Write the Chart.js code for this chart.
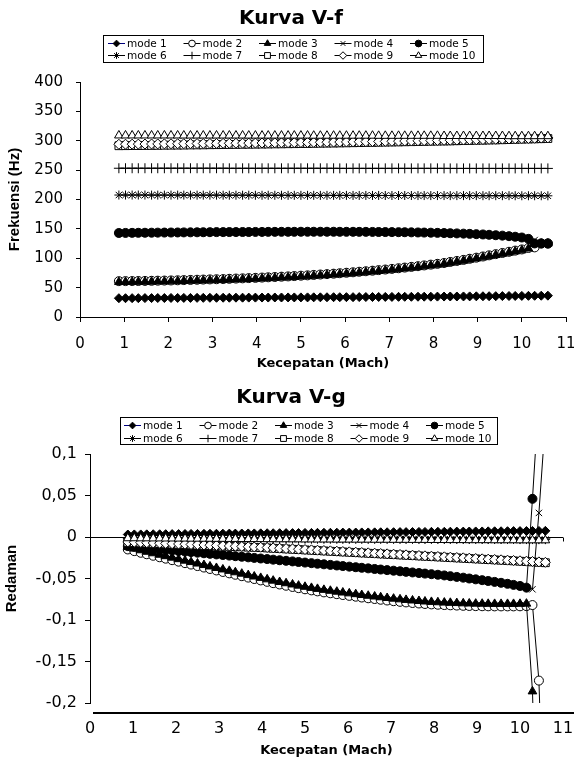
<!DOCTYPE html>
<html>
<head>
<meta charset="utf-8">
<script src="https://cdn.jsdelivr.net/npm/chart.js@4.4.1/dist/chart.umd.min.js"></script>
<style>
  html, body { margin: 0; padding: 0; background: #fff; }
  #wrap { position: relative; width: 574px; height: 762px; overflow: hidden; }
  #wrap canvas { position: absolute; left: 0; }
  #vf { top: 0; }
  #vg { top: 372px; }
</style>
</head>
<body>
<div id="wrap">
  <canvas id="vf" width="574" height="372"></canvas>
  <canvas id="vg" width="574" height="390"></canvas>
</div>
<script>
/* ── Data: speed in Mach (shared by both charts) ── */
var mach = [0.88, 1.03, 1.18, 1.32, 1.47, 1.62, 1.76, 1.91, 2.06, 2.21,
  2.35, 2.50, 2.65, 2.79, 2.94, 3.09, 3.24, 3.38, 3.53, 3.68,
  3.82, 3.97, 4.12, 4.26, 4.41, 4.56, 4.71, 4.85, 5.00, 5.15,
  5.29, 5.44, 5.59, 5.74, 5.88, 6.03, 6.18, 6.32, 6.47, 6.62,
  6.76, 6.91, 7.06, 7.21, 7.35, 7.50, 7.65, 7.79, 7.94, 8.09,
  8.24, 8.38, 8.53, 8.68, 8.82, 8.97, 9.12, 9.26, 9.41, 9.56,
  9.71, 9.85, 10.00, 10.15, 10.29, 10.44, 10.59];

var modeLabels = ['mode 1', 'mode 2', 'mode 3', 'mode 4', 'mode 5',
  'mode 6', 'mode 7', 'mode 8', 'mode 9', 'mode 10'];

/* ── Frekuensi (Hz) per mode ── */
var freq1 = [32.0, 32.0, 32.1, 32.1, 32.2, 32.2, 32.3, 32.3, 32.4, 32.4,
  32.5, 32.5, 32.6, 32.6, 32.7, 32.7, 32.8, 32.8, 32.9, 32.9,
  33.0, 33.0, 33.1, 33.1, 33.2, 33.2, 33.3, 33.3, 33.4, 33.4,
  33.5, 33.5, 33.6, 33.7, 33.7, 33.8, 33.8, 33.9, 34.0, 34.0,
  34.1, 34.2, 34.2, 34.3, 34.4, 34.4, 34.5, 34.6, 34.6, 34.7,
  34.8, 34.9, 34.9, 35.0, 35.1, 35.2, 35.3, 35.4, 35.5, 35.6,
  35.7, 35.8, 35.9, 36.0, 36.1, 36.2, 36.3];
var freq2 = [61.0, 61.1, 61.2, 61.3, 61.4, 61.6, 61.8, 62.0, 62.2, 62.5,
  62.8, 63.1, 63.4, 63.7, 64.0, 64.3, 64.6, 65.0, 65.4, 65.8,
  66.2, 66.6, 67.1, 67.6, 68.1, 68.6, 69.1, 69.7, 70.3, 70.9,
  71.6, 72.3, 73.0, 73.7, 74.5, 75.3, 76.1, 77.0, 77.9, 78.8,
  79.8, 80.8, 81.9, 83.0, 84.1, 85.3, 86.5, 87.8, 89.1, 90.5,
  91.9, 93.7, 95.4, 97.2, 99.1, 101.0, 103.0, 105.0, 107.0, 109.0,
  111.0, 113.0, 115.0, 117.5, 118.5, 125.3, 125.4];
var freq3 = [59.5, 59.6, 59.7, 59.8, 59.9, 60.1, 60.3, 60.5, 60.7, 61.0,
  61.3, 61.6, 61.9, 62.2, 62.5, 62.8, 63.1, 63.5, 63.9, 64.3,
  64.7, 65.1, 65.6, 66.1, 66.6, 67.1, 67.6, 68.2, 68.8, 69.4,
  70.1, 70.8, 71.5, 72.2, 73.0, 73.8, 74.6, 75.5, 76.4, 77.3,
  78.3, 79.3, 80.4, 81.5, 82.6, 83.8, 85.0, 86.3, 87.6, 89.0,
  90.4, 92.2, 93.9, 95.7, 97.6, 99.5, 101.5, 103.5, 105.5, 107.5,
  109.5, 111.5, 113.5, 116.5, 124.5, 124.8, 125.0];
var freq4 = [143.0, 143.1, 143.2, 143.3, 143.4, 143.5, 143.6, 143.7, 143.8, 143.9,
  144.0, 144.1, 144.2, 144.3, 144.4, 144.5, 144.5, 144.6, 144.6, 144.7,
  144.7, 144.8, 144.8, 144.9, 144.9, 145.0, 145.0, 145.0, 145.1, 145.1,
  145.1, 145.1, 145.1, 145.1, 145.0, 145.0, 145.0, 144.9, 144.9, 144.8,
  144.7, 144.6, 144.5, 144.4, 144.3, 144.1, 143.9, 143.7, 143.5, 143.2,
  142.9, 142.6, 142.3, 141.9, 141.5, 141.0, 140.5, 139.9, 139.2, 138.5,
  137.6, 136.6, 135.3, 133.0, 131.0, 125.3, 125.1];
var freq5 = [143.0, 143.1, 143.2, 143.3, 143.4, 143.5, 143.6, 143.7, 143.8, 143.9,
  144.0, 144.1, 144.2, 144.3, 144.4, 144.5, 144.5, 144.6, 144.6, 144.7,
  144.7, 144.8, 144.8, 144.9, 144.9, 145.0, 145.0, 145.0, 145.1, 145.1,
  145.1, 145.1, 145.1, 145.1, 145.0, 145.0, 145.0, 144.9, 144.9, 144.8,
  144.7, 144.6, 144.5, 144.4, 144.3, 144.1, 143.9, 143.7, 143.5, 143.2,
  142.9, 142.6, 142.3, 141.9, 141.5, 141.0, 140.5, 139.9, 139.2, 138.5,
  137.6, 136.6, 135.3, 133.0, 125.2, 125.0, 124.8];
var freq6 = [207.6, 207.6, 207.6, 207.6, 207.6, 207.5, 207.5, 207.5, 207.5, 207.5,
  207.5, 207.4, 207.4, 207.4, 207.4, 207.4, 207.3, 207.3, 207.3, 207.3,
  207.3, 207.2, 207.2, 207.2, 207.2, 207.2, 207.1, 207.1, 207.1, 207.1,
  207.1, 207.0, 207.0, 207.0, 207.0, 207.0, 206.9, 206.9, 206.9, 206.9,
  206.9, 206.8, 206.8, 206.8, 206.8, 206.8, 206.7, 206.7, 206.7, 206.7,
  206.7, 206.6, 206.6, 206.6, 206.6, 206.6, 206.5, 206.5, 206.5, 206.5,
  206.5, 206.4, 206.4, 206.4, 206.4, 206.4, 206.3];
var freq7 = [253.2, 253.2, 253.2, 253.2, 253.2, 253.2, 253.2, 253.2, 253.2, 253.2,
  253.2, 253.2, 253.2, 253.2, 253.2, 253.2, 253.2, 253.1, 253.1, 253.1,
  253.1, 253.1, 253.1, 253.1, 253.1, 253.1, 253.1, 253.1, 253.1, 253.1,
  253.1, 253.1, 253.1, 253.1, 253.0, 253.0, 253.0, 253.0, 253.0, 253.0,
  253.0, 253.0, 253.0, 253.0, 253.0, 253.0, 253.0, 253.0, 253.0, 253.0,
  253.0, 252.9, 252.9, 252.9, 252.9, 252.9, 252.9, 252.9, 252.9, 252.9,
  252.9, 252.9, 252.9, 252.9, 252.9, 252.9, 252.9];
var freq8 = [291.5, 291.6, 291.7, 291.8, 291.9, 292.0, 292.1, 292.3, 292.4, 292.5,
  292.6, 292.8, 292.9, 293.0, 293.2, 293.3, 293.5, 293.6, 293.7, 293.9,
  294.0, 294.1, 294.3, 294.4, 294.6, 294.7, 294.9, 295.0, 295.2, 295.3,
  295.5, 295.7, 295.9, 296.0, 296.2, 296.4, 296.6, 296.8, 297.0, 297.2,
  297.4, 297.6, 297.8, 298.0, 298.2, 298.4, 298.6, 298.8, 299.1, 299.3,
  299.5, 299.7, 300.0, 300.2, 300.4, 300.7, 300.9, 301.2, 301.4, 301.7,
  302.0, 302.3, 302.6, 302.9, 303.2, 303.5, 303.8];
var freq9 = [294.0, 294.1, 294.2, 294.3, 294.4, 294.5, 294.6, 294.7, 294.8, 294.9,
  295.0, 295.1, 295.2, 295.3, 295.4, 295.5, 295.6, 295.7, 295.8, 295.9,
  296.0, 296.1, 296.2, 296.3, 296.5, 296.6, 296.7, 296.8, 297.0, 297.1,
  297.2, 297.4, 297.5, 297.7, 297.8, 298.0, 298.1, 298.3, 298.4, 298.6,
  298.8, 298.9, 299.1, 299.3, 299.5, 299.7, 299.9, 300.1, 300.3, 300.5,
  300.7, 300.9, 301.1, 301.3, 301.6, 301.8, 302.0, 302.3, 302.5, 302.8,
  303.0, 303.3, 303.6, 303.9, 304.2, 304.5, 304.8];
var freq10 = [309.0, 309.0, 309.0, 309.0, 309.0, 309.0, 309.0, 309.0, 309.0, 309.0,
  308.9, 308.9, 308.9, 308.9, 308.9, 308.9, 308.9, 308.9, 308.9, 308.9,
  308.8, 308.8, 308.8, 308.8, 308.8, 308.8, 308.8, 308.8, 308.8, 308.8,
  308.6, 308.6, 308.6, 308.6, 308.6, 308.6, 308.6, 308.6, 308.6, 308.6,
  308.4, 308.4, 308.4, 308.4, 308.4, 308.4, 308.4, 308.4, 308.4, 308.4,
  308.1, 308.1, 308.1, 308.1, 308.1, 308.1, 308.1, 308.1, 308.1, 308.1,
  307.8, 307.8, 307.8, 307.8, 307.8, 307.8, 307.8];

/* ── Redaman per mode ── */
var damp1 = [0.0030, 0.0031, 0.0031, 0.0032, 0.0033, 0.0033, 0.0034, 0.0035, 0.0035, 0.0036,
  0.0037, 0.0037, 0.0038, 0.0039, 0.0039, 0.0040, 0.0041, 0.0041, 0.0042, 0.0043,
  0.0043, 0.0044, 0.0045, 0.0045, 0.0046, 0.0047, 0.0047, 0.0048, 0.0049, 0.0049,
  0.0050, 0.0051, 0.0051, 0.0052, 0.0053, 0.0053, 0.0054, 0.0055, 0.0055, 0.0056,
  0.0057, 0.0057, 0.0058, 0.0059, 0.0059, 0.0060, 0.0061, 0.0061, 0.0062, 0.0063,
  0.0063, 0.0064, 0.0065, 0.0065, 0.0066, 0.0067, 0.0067, 0.0068, 0.0069, 0.0069,
  0.0070, 0.0071, 0.0071, 0.0072, 0.0073, 0.0073, 0.0074];
var damp2 = [-0.0150, -0.0170, -0.0190, -0.0208, -0.0226, -0.0244, -0.0261, -0.0279, -0.0297, -0.0315,
  -0.0332, -0.0350, -0.0368, -0.0385, -0.0403, -0.0421, -0.0438, -0.0455, -0.0472, -0.0489,
  -0.0506, -0.0523, -0.0540, -0.0556, -0.0572, -0.0587, -0.0602, -0.0616, -0.0630, -0.0643,
  -0.0655, -0.0667, -0.0678, -0.0689, -0.0699, -0.0709, -0.0719, -0.0729, -0.0738, -0.0747,
  -0.0756, -0.0765, -0.0773, -0.0781, -0.0788, -0.0795, -0.0801, -0.0807, -0.0812, -0.0816,
  -0.0820, -0.0823, -0.0826, -0.0829, -0.0831, -0.0833, -0.0834, -0.0835, -0.0836, -0.0836,
  -0.0836, -0.0836, -0.0835, -0.0833, -0.0820, -0.173, -0.42];
var damp3 = [-0.0120, -0.0140, -0.0160, -0.0178, -0.0196, -0.0214, -0.0231, -0.0249, -0.0267, -0.0285,
  -0.0302, -0.0320, -0.0338, -0.0355, -0.0373, -0.0391, -0.0408, -0.0425, -0.0442, -0.0459,
  -0.0476, -0.0493, -0.0510, -0.0526, -0.0542, -0.0557, -0.0572, -0.0586, -0.0600, -0.0613,
  -0.0625, -0.0637, -0.0648, -0.0659, -0.0669, -0.0679, -0.0689, -0.0699, -0.0708, -0.0717,
  -0.0726, -0.0735, -0.0743, -0.0751, -0.0758, -0.0765, -0.0771, -0.0777, -0.0782, -0.0786,
  -0.0790, -0.0793, -0.0796, -0.0799, -0.0801, -0.0803, -0.0804, -0.0805, -0.0806, -0.0806,
  -0.0806, -0.0806, -0.0805, -0.0803, -0.186, -0.45, -0.80];
var damp4 = [-0.0110, -0.0118, -0.0126, -0.0133, -0.0140, -0.0147, -0.0154, -0.0161, -0.0168, -0.0175,
  -0.0182, -0.0189, -0.0196, -0.0203, -0.0210, -0.0217, -0.0224, -0.0231, -0.0238, -0.0245,
  -0.0252, -0.0259, -0.0266, -0.0273, -0.0280, -0.0287, -0.0294, -0.0301, -0.0308, -0.0315,
  -0.0322, -0.0329, -0.0336, -0.0343, -0.0350, -0.0357, -0.0364, -0.0371, -0.0378, -0.0385,
  -0.0392, -0.0399, -0.0406, -0.0413, -0.0420, -0.0427, -0.0434, -0.0441, -0.0448, -0.0455,
  -0.0463, -0.0472, -0.0481, -0.0490, -0.0500, -0.0510, -0.0520, -0.0530, -0.0541, -0.0552,
  -0.0564, -0.0577, -0.0590, -0.0610, -0.0630, 0.029, 0.140];
var damp5 = [-0.0110, -0.0118, -0.0126, -0.0133, -0.0140, -0.0147, -0.0154, -0.0161, -0.0168, -0.0175,
  -0.0182, -0.0189, -0.0196, -0.0203, -0.0210, -0.0217, -0.0224, -0.0231, -0.0238, -0.0245,
  -0.0252, -0.0259, -0.0266, -0.0273, -0.0280, -0.0287, -0.0294, -0.0301, -0.0308, -0.0315,
  -0.0322, -0.0329, -0.0336, -0.0343, -0.0350, -0.0357, -0.0364, -0.0371, -0.0378, -0.0385,
  -0.0392, -0.0399, -0.0406, -0.0413, -0.0420, -0.0427, -0.0434, -0.0441, -0.0448, -0.0455,
  -0.0463, -0.0472, -0.0481, -0.0490, -0.0500, -0.0510, -0.0520, -0.0530, -0.0541, -0.0552,
  -0.0564, -0.0577, -0.0590, -0.0610, 0.046, 0.170, 0.300];
var damp6 = [-0.0010, -0.0010, -0.0011, -0.0011, -0.0011, -0.0012, -0.0012, -0.0012, -0.0013, -0.0013,
  -0.0013, -0.0014, -0.0014, -0.0014, -0.0015, -0.0015, -0.0015, -0.0016, -0.0016, -0.0016,
  -0.0017, -0.0017, -0.0017, -0.0018, -0.0018, -0.0018, -0.0019, -0.0019, -0.0019, -0.0020,
  -0.0020, -0.0020, -0.0021, -0.0021, -0.0021, -0.0022, -0.0022, -0.0022, -0.0023, -0.0023,
  -0.0023, -0.0024, -0.0024, -0.0024, -0.0025, -0.0025, -0.0025, -0.0026, -0.0026, -0.0026,
  -0.0027, -0.0027, -0.0027, -0.0028, -0.0028, -0.0028, -0.0029, -0.0029, -0.0029, -0.0030,
  -0.0030, -0.0030, -0.0031, -0.0031, -0.0031, -0.0032, -0.0032];
var damp7 = [-0.0020, -0.0020, -0.0020, -0.0020, -0.0020, -0.0020, -0.0020, -0.0020, -0.0020, -0.0020,
  -0.0020, -0.0020, -0.0020, -0.0020, -0.0020, -0.0020, -0.0020, -0.0020, -0.0020, -0.0020,
  -0.0020, -0.0020, -0.0020, -0.0020, -0.0020, -0.0020, -0.0020, -0.0020, -0.0020, -0.0020,
  -0.0020, -0.0020, -0.0020, -0.0020, -0.0021, -0.0021, -0.0021, -0.0021, -0.0021, -0.0021,
  -0.0021, -0.0021, -0.0021, -0.0021, -0.0021, -0.0021, -0.0021, -0.0021, -0.0021, -0.0021,
  -0.0021, -0.0021, -0.0021, -0.0021, -0.0022, -0.0022, -0.0022, -0.0022, -0.0022, -0.0022,
  -0.0022, -0.0022, -0.0022, -0.0022, -0.0022, -0.0022, -0.0022];
var damp8 = [-0.0065, -0.0068, -0.0071, -0.0074, -0.0077, -0.0080, -0.0083, -0.0086, -0.0089, -0.0092,
  -0.0095, -0.0098, -0.0101, -0.0104, -0.0107, -0.0110, -0.0113, -0.0116, -0.0119, -0.0122,
  -0.0125, -0.0128, -0.0132, -0.0136, -0.0140, -0.0144, -0.0148, -0.0152, -0.0156, -0.0160,
  -0.0164, -0.0168, -0.0172, -0.0176, -0.0180, -0.0184, -0.0188, -0.0192, -0.0196, -0.0200,
  -0.0204, -0.0208, -0.0212, -0.0216, -0.0220, -0.0224, -0.0228, -0.0232, -0.0236, -0.0240,
  -0.0244, -0.0248, -0.0252, -0.0256, -0.0260, -0.0264, -0.0268, -0.0272, -0.0276, -0.0280,
  -0.0284, -0.0288, -0.0292, -0.0296, -0.0300, -0.0305, -0.0310];
var damp9 = [-0.0060, -0.0063, -0.0066, -0.0069, -0.0072, -0.0075, -0.0078, -0.0081, -0.0084, -0.0087,
  -0.0090, -0.0093, -0.0096, -0.0099, -0.0102, -0.0105, -0.0108, -0.0111, -0.0114, -0.0117,
  -0.0120, -0.0123, -0.0127, -0.0131, -0.0135, -0.0139, -0.0143, -0.0147, -0.0151, -0.0155,
  -0.0159, -0.0163, -0.0167, -0.0171, -0.0175, -0.0179, -0.0183, -0.0187, -0.0191, -0.0195,
  -0.0199, -0.0203, -0.0207, -0.0211, -0.0215, -0.0219, -0.0223, -0.0227, -0.0231, -0.0235,
  -0.0239, -0.0243, -0.0247, -0.0251, -0.0255, -0.0259, -0.0263, -0.0267, -0.0271, -0.0275,
  -0.0279, -0.0283, -0.0287, -0.0291, -0.0295, -0.0300, -0.0305];
var damp10 = [-0.0015, -0.0015, -0.0016, -0.0016, -0.0017, -0.0017, -0.0018, -0.0018, -0.0019, -0.0019,
  -0.0020, -0.0020, -0.0021, -0.0021, -0.0022, -0.0022, -0.0023, -0.0023, -0.0024, -0.0024,
  -0.0025, -0.0025, -0.0026, -0.0026, -0.0027, -0.0027, -0.0028, -0.0028, -0.0029, -0.0029,
  -0.0030, -0.0030, -0.0030, -0.0031, -0.0031, -0.0031, -0.0032, -0.0032, -0.0032, -0.0033,
  -0.0033, -0.0033, -0.0034, -0.0034, -0.0034, -0.0035, -0.0035, -0.0035, -0.0036, -0.0036,
  -0.0036, -0.0037, -0.0037, -0.0037, -0.0038, -0.0038, -0.0038, -0.0038, -0.0039, -0.0039,
  -0.0039, -0.0039, -0.0040, -0.0040, -0.0040, -0.0040, -0.0040];

/* ── Look ── */
var SANS = '"DejaVu Sans", sans-serif';
var ARIAL = '"Liberation Sans", Arial, sans-serif';

// one marker per mode, in legend order
var markers = [
  { style: 'rectRot',  r: 4.5, fill: '#000', line: '#000080' },
  { style: 'circle',   r: 4.5, fill: '#fff', line: '#000' },
  { style: 'triangle', r: 5,   fill: '#000', line: '#000' },
  { style: 'crossRot', r: 4.5, fill: '#000', line: '#000' },
  { style: 'circle',   r: 4.5, fill: '#000', line: '#000' },
  { style: 'star',     r: 4.5, fill: '#000', line: '#000' },
  { style: 'cross',    r: 5,   fill: '#000', line: '#000' },
  { style: 'rect',     r: 5.5, fill: '#fff', line: '#000' },
  { style: 'rectRot',  r: 5,   fill: '#fff', line: '#000' },
  { style: 'triangle', r: 5,   fill: '#fff', line: '#000' }
];

function buildDatasets(seriesList) {
  return seriesList.map(function (vals, i) {
    var m = markers[i];
    return {
      label: modeLabels[i],
      data: mach.map(function (x, j) { return { x: x, y: vals[j] }; }),
      borderColor: m.line,
      borderWidth: 1,
      pointStyle: m.style,
      pointRadius: m.r,
      pointHoverRadius: m.r,
      pointBackgroundColor: m.fill,
      pointBorderColor: '#000',
      pointBorderWidth: 1,
      tension: 0,
      fill: false,
      order: 10 - i          // later modes are drawn on top, as in the original
    };
  });
}

/* ── Title + boxed 2x5 legend drawn on the canvas ── */
var boxLegend = {
  id: 'boxLegend',
  afterDraw: function (chart, args, o) {
    var ctx = chart.ctx;
    ctx.save();
    ctx.fillStyle = '#000';
    ctx.font = 'bold 20px ' + SANS;
    ctx.textAlign = 'center';
    ctx.textBaseline = 'alphabetic';
    ctx.fillText(o.title, o.titleX, o.titleY);

    ctx.strokeStyle = '#000';
    ctx.lineWidth = 1;
    ctx.strokeRect(o.x + 0.5, o.y + 0.5, o.w, o.h);

    ctx.font = '10.5px ' + SANS;
    ctx.textAlign = 'left';
    ctx.textBaseline = 'middle';
    chart.data.datasets.forEach(function (ds, i) {
      var m = markers[i];
      var x = o.x + o.padX + (i % 5) * o.colW;
      var y = o.y + o.rowY[Math.floor(i / 5)];
      ctx.strokeStyle = m.line;
      ctx.beginPath();
      ctx.moveTo(x, y + 0.5);
      ctx.lineTo(x + 17, y + 0.5);
      ctx.stroke();
      ctx.fillStyle = m.fill;
      ctx.strokeStyle = '#000';
      Chart.helpers.drawPoint(ctx, { pointStyle: m.style, radius: m.r * 0.75, borderWidth: 1, rotation: 0 }, x + 8.5, y + 0.5);
      ctx.fillStyle = '#000';
      ctx.fillText(ds.label, x + 19, y + 1);
    });
    ctx.restore();
  }
};

/* ── V-g extras: the zero line and the heavy base rule ── */
var zeroLine = {
  id: 'zeroLine',
  beforeDatasetsDraw: function (chart) {
    var ctx = chart.ctx, a = chart.chartArea;
    var y0 = Math.round(chart.scales.y.getPixelForValue(0)) + 0.5;
    ctx.save();
    ctx.strokeStyle = '#000';
    ctx.lineWidth = 1;
    ctx.beginPath();
    ctx.moveTo(a.left, y0);
    ctx.lineTo(a.right, y0);
    chart.scales.x.ticks.forEach(function (t) {
      var px = Math.round(chart.scales.x.getPixelForValue(t.value)) + 0.5;
      ctx.moveTo(px, y0);
      ctx.lineTo(px, y0 + 4);
    });
    ctx.stroke();
    ctx.restore();
  },
  afterDraw: function (chart) {
    var ctx = chart.ctx, a = chart.chartArea;
    ctx.save();
    ctx.strokeStyle = '#000';
    ctx.lineWidth = 2;
    ctx.beginPath();
    ctx.moveTo(a.left + 3, a.bottom + 10);
    ctx.lineTo(chart.width, a.bottom + 10);
    ctx.stroke();
    ctx.restore();
  }
};

function commaNum(v) {
  return String(Math.round(v * 100) / 100).replace('.', ',');
}

// fixed axis box; drop the side padding that tick labels would add
function fixX(h) {
  return function (s) { s.height = h; s.paddingLeft = 0; s.paddingRight = 0; };
}
function fixY(w) {
  return function (s) { s.width = w; };
}

Chart.defaults.font.family = SANS;
Chart.defaults.color = '#000';

/* ── Kurva V-f ── */
new Chart(document.getElementById('vf'), {
  type: 'line',
  data: { datasets: buildDatasets([freq1, freq2, freq3, freq4, freq5, freq6, freq7, freq8, freq9, freq10]) },
  plugins: [boxLegend],
  options: {
    responsive: false,
    animation: false,
    events: [],
    layout: { padding: { top: 82, right: 8, left: 0, bottom: 0 } },
    plugins: {
      legend: { display: false },
      tooltip: { enabled: false },
      boxLegend: { title: 'Kurva V-f', titleX: 291, titleY: 24,
        x: 103, y: 35, w: 380, h: 27, padX: 5, colW: 75.5, rowY: [8, 20] }
    },
    scales: {
      x: {
        type: 'linear', min: 0, max: 11,
        ticks: { stepSize: 1, padding: 13, font: { size: 15 }, maxRotation: 0, autoSkip: false },
        grid: { drawOnChartArea: false, drawTicks: true, tickLength: 5, color: '#000' },
        border: { display: true, color: '#000', width: 1 },
        title: { display: true, text: 'Kecepatan (Mach)', font: { size: 13, weight: 'bold' }, padding: { top: 0, bottom: 1 } },
        afterFit: fixX(55)
      },
      y: {
        min: 0, max: 400,
        ticks: { stepSize: 50, padding: 13, font: { size: 15 } },
        grid: { drawOnChartArea: false, drawTicks: true, tickLength: 4, color: '#000' },
        border: { display: true, color: '#000', width: 1 },
        title: { display: true, text: 'Frekuensi (Hz)', font: { family: ARIAL, size: 15, weight: 'bold' }, padding: { top: 6, bottom: 0 } },
        afterFit: fixY(80)
      }
    }
  }
});

/* ── Kurva V-g ── */
new Chart(document.getElementById('vg'), {
  type: 'line',
  data: { datasets: buildDatasets([damp1, damp2, damp3, damp4, damp5, damp6, damp7, damp8, damp9, damp10]) },
  plugins: [boxLegend, zeroLine],
  options: {
    responsive: false,
    animation: false,
    events: [],
    layout: { padding: { top: 82, right: 11, left: 0, bottom: 0 } },
    plugins: {
      legend: { display: false },
      tooltip: { enabled: false },
      boxLegend: { title: 'Kurva V-g', titleX: 291, titleY: 31,
        x: 120, y: 45, w: 377, h: 27, padX: 4, colW: 75.5, rowY: [8, 21] }
    },
    scales: {
      x: {
        type: 'linear', min: 0, max: 11,
        ticks: { stepSize: 1, padding: 16, font: { size: 16 }, maxRotation: 0, autoSkip: false },
        grid: { display: false, drawTicks: false },
        border: { display: false },
        title: { display: true, text: 'Kecepatan (Mach)', font: { size: 13, weight: 'bold' }, padding: { top: 0, bottom: 4 } },
        afterFit: fixX(59)
      },
      y: {
        min: -0.2, max: 0.1,
        ticks: { stepSize: 0.05, padding: 8, font: { size: 16 }, callback: commaNum },
        grid: { drawOnChartArea: false, drawTicks: true, tickLength: 5, color: '#000' },
        border: { display: true, color: '#000', width: 1 },
        title: { display: true, text: 'Redaman', font: { family: ARIAL, size: 15, weight: 'bold' }, padding: { top: 3, bottom: 0 } },
        afterFit: fixY(90)
      }
    }
  }
});
</script>
</body>
</html>
